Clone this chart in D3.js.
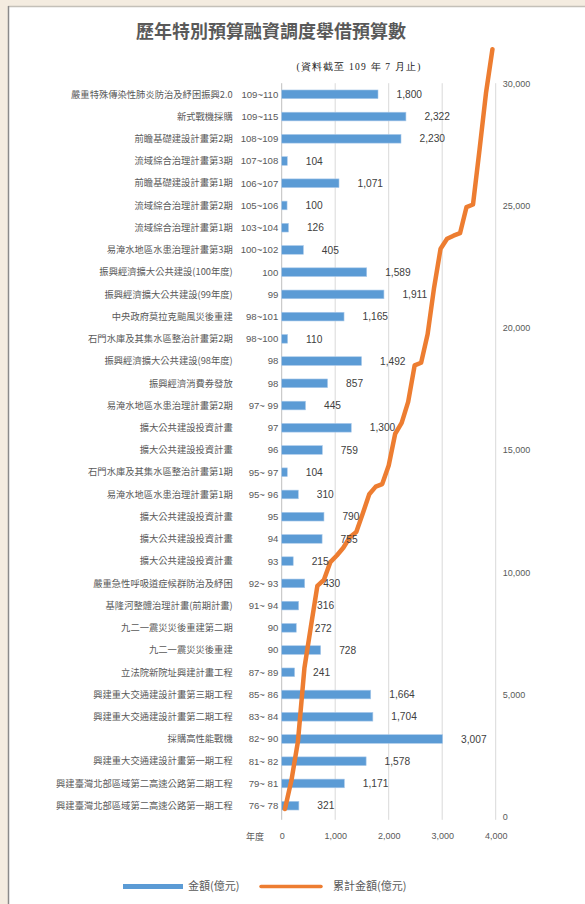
<!DOCTYPE html>
<html>
<head>
<meta charset="utf-8">
<script src="https://cdn.jsdelivr.net/npm/d3@7"></script>
<style>
  body { margin: 0; background: #f4ece0; }
  svg { display: block; }
</style>
</head>
<body>
<script>
// 資料（由上到下）
const projects = [
  "嚴重特殊傳染性肺炎防治及紓困振興2.0", "新式戰機採購", "前瞻基礎建設計畫第2期",
  "流域綜合治理計畫第3期", "前瞻基礎建設計畫第1期", "流域綜合治理計畫第2期",
  "流域綜合治理計畫第1期", "易淹水地區水患治理計畫第3期", "振興經濟擴大公共建設(100年度)",
  "振興經濟擴大公共建設(99年度)", "中央政府莫拉克颱風災後重建", "石門水庫及其集水區整治計畫第2期",
  "振興經濟擴大公共建設(98年度)", "振興經濟消費券發放", "易淹水地區水患治理計畫第2期",
  "擴大公共建設投資計畫", "擴大公共建設投資計畫", "石門水庫及其集水區整治計畫第1期",
  "易淹水地區水患治理計畫第1期", "擴大公共建設投資計畫", "擴大公共建設投資計畫",
  "擴大公共建設投資計畫", "嚴重急性呼吸道症候群防治及紓困", "基隆河整體治理計畫(前期計畫)",
  "九二一震災災後重建第二期", "九二一震災災後重建", "立法院新院址興建計畫工程",
  "興建重大交通建設計畫第三期工程", "興建重大交通建設計畫第二期工程", "採購高性能戰機",
  "興建重大交通建設計畫第一期工程", "興建臺灣北部區域第二高速公路第二期工程", "興建臺灣北部區域第二高速公路第一期工程"
];
const years = [
  "109~110", "109~115", "108~109", "107~108", "106~107", "105~106", "103~104", "100~102",
  "100", "99", "98~101", "98~100", "98", "98", "97~ 99", "97", "96", "95~ 97", "95~ 96",
  "95", "94", "93", "92~ 93", "91~ 94", "90", "90", "87~ 89", "85~ 86", "83~ 84", "82~ 90",
  "81~ 82", "79~ 81", "76~ 78"
];
const amounts = [
  1800, 2322, 2230, 104, 1071, 100, 126, 405, 1589, 1911, 1165, 110, 1492, 857, 445,
  1300, 759, 104, 310, 790, 755, 215, 430, 316, 272, 728, 241, 1664, 1704, 3007,
  1578, 1171, 321
];
// 累計金額（由上到下，與上列對應）
const cumulative = [
  31392, 29592, 27270, 25040, 24936, 23865, 23765, 23639, 23234, 21645, 19734, 18569,
  18459, 16967, 16110, 15665, 14365, 13606, 13502, 13192, 12402, 11647, 11432, 11002,
  10686, 10414, 9686, 9445, 7781, 6077, 3070, 1492, 321
];
const xTicks = [0, 1000, 2000, 3000, 4000];
const y2Ticks = [0, 5000, 10000, 15000, 20000, 25000, 30000];

const W = 585, H = 904;
const cjk = "'Noto Sans CJK TC', 'Noto Sans CJK SC', sans-serif";
const num = "'Liberation Sans', Arial, 'Noto Sans CJK TC', sans-serif";

const svg = d3.select("body").append("svg")
  .attr("width", W).attr("height", H);

// 白色面板
svg.append("rect").attr("x", 8).attr("y", 6).attr("width", W).attr("height", H)
  .attr("fill", "#fff");
svg.append("line").attr("x1", 8).attr("x2", W).attr("y1", 6.5).attr("y2", 6.5)
  .attr("stroke", "#c4c0b8").attr("stroke-width", 1.5);
svg.append("line").attr("x1", 8.5).attr("x2", 8.5).attr("y1", 6).attr("y2", H)
  .attr("stroke", "#8a8a8a").attr("stroke-width", 1.5);

const idx = projects.map((d, i) => i);
const plotTop = 83.2, plotBottom = 816.8, plotLeft = 281.7, plotRight = 495.7;

const y = d3.scaleBand().domain(idx).range([plotTop, plotBottom])
  .paddingInner(0.61).paddingOuter(0.305);
const x = d3.scaleLinear().domain([0, 4000]).range([plotLeft, plotRight]);
const y2 = d3.scaleLinear().domain([0, 30000]).range([plotBottom, plotTop]);
// 折線的類別軸（由舊到新，左到右）
const xLine = d3.scalePoint().domain(idx.slice().reverse()).range([plotLeft, plotRight]).padding(0.5);

// 標題
svg.append("text").attr("x", 271).attr("y", 38).attr("text-anchor", "middle")
  .attr("font-family", cjk).attr("font-size", 18).attr("font-weight", "bold")
  .attr("fill", "#595959").text("歷年特別預算融資調度舉借預算數");
svg.append("text").attr("x", 359).attr("y", 70).attr("text-anchor", "middle")
  .attr("font-family", "'Liberation Serif', 'DejaVu Serif', serif").attr("font-size", 9.5)
  .attr("letter-spacing", 1.2).attr("fill", "#222").text("(資料截至 109 年 7 月止)");

// 格線
svg.append("g").selectAll("line").data(xTicks).join("line")
  .attr("x1", d => x(d)).attr("x2", d => x(d))
  .attr("y1", plotTop).attr("y2", plotBottom + 3)
  .attr("stroke", d => d === 0 ? "#bfbfbf" : "#d9d9d9").attr("stroke-width", 1);

// 下方數值軸
const xAxis = svg.append("g").attr("transform", `translate(0,${plotBottom})`)
  .call(d3.axisBottom(x).tickValues(xTicks).tickSize(0).tickPadding(16).tickFormat(d3.format(",")));
xAxis.select(".domain").remove();
xAxis.selectAll("text").attr("font-family", num).attr("font-size", 9).attr("fill", "#595959");
svg.append("text").attr("x", 264).attr("y", plotBottom + 23).attr("text-anchor", "end")
  .attr("font-family", cjk).attr("font-size", 9).attr("fill", "#595959").text("年度");

// 右方累計軸
const yAxis2 = svg.append("g").attr("transform", `translate(${plotRight},0)`)
  .call(d3.axisRight(y2).tickValues(y2Ticks).tickSize(0).tickPadding(7).tickFormat(d3.format(",")));
yAxis2.select(".domain").remove();
yAxis2.selectAll("text").attr("font-family", num).attr("font-size", 9).attr("fill", "#595959");

// 長條
svg.append("g").selectAll("rect").data(idx).join("rect")
  .attr("x", x(0)).attr("y", i => y(i))
  .attr("width", i => x(amounts[i]) - x(0)).attr("height", y.bandwidth())
  .attr("fill", "#5b9bd5").attr("stroke", "#a9c9ea").attr("stroke-width", 0.6);

// 類別與年度標籤
svg.append("g").selectAll("text").data(idx).join("text")
  .attr("x", 232.7).attr("y", i => y(i) + y.bandwidth() / 2).attr("dy", "0.35em")
  .attr("text-anchor", "end").attr("font-family", cjk).attr("font-size", 9.3)
  .attr("fill", "#595959").text(i => projects[i]);
svg.append("g").selectAll("text").data(idx).join("text")
  .attr("x", 278.3).attr("y", i => y(i) + y.bandwidth() / 2).attr("dy", "0.35em")
  .attr("text-anchor", "end").attr("font-family", num).attr("font-size", 9.6)
  .attr("fill", "#595959").text(i => years[i]);

// 累計折線
const line = d3.line().x(i => xLine(i)).y(i => y2(cumulative[i]));
svg.append("path").datum(idx.slice().reverse())
  .attr("d", line).attr("fill", "none").attr("stroke", "#ed7d31")
  .attr("stroke-width", 4.5).attr("stroke-linejoin", "round").attr("stroke-linecap", "round");

// 數值標籤
svg.append("g").selectAll("text").data(idx).join("text")
  .attr("x", i => x(amounts[i]) + 18.5).attr("y", i => y(i) + y.bandwidth() / 2).attr("dy", "0.36em")
  .attr("font-family", num).attr("font-size", 10.2).attr("fill", "#404040")
  .text(i => d3.format(",")(amounts[i]));

// 圖例
const leg = svg.append("g");
leg.append("line").attr("x1", 123).attr("x2", 183).attr("y1", 886.5).attr("y2", 886.5)
  .attr("stroke", "#5b9bd5").attr("stroke-width", 4.8);
leg.append("text").attr("x", 188).attr("y", 886.5).attr("dy", "0.36em")
  .attr("font-family", cjk).attr("font-size", 11).attr("fill", "#595959").text("金額(億元)");
leg.append("line").attr("x1", 261).attr("x2", 321).attr("y1", 886.5).attr("y2", 886.5)
  .attr("stroke", "#ed7d31").attr("stroke-width", 3.5).attr("stroke-linecap", "round");
leg.append("text").attr("x", 333).attr("y", 886.5).attr("dy", "0.36em")
  .attr("font-family", cjk).attr("font-size", 11).attr("fill", "#595959").text("累計金額(億元)");
</script>
</body>
</html>
